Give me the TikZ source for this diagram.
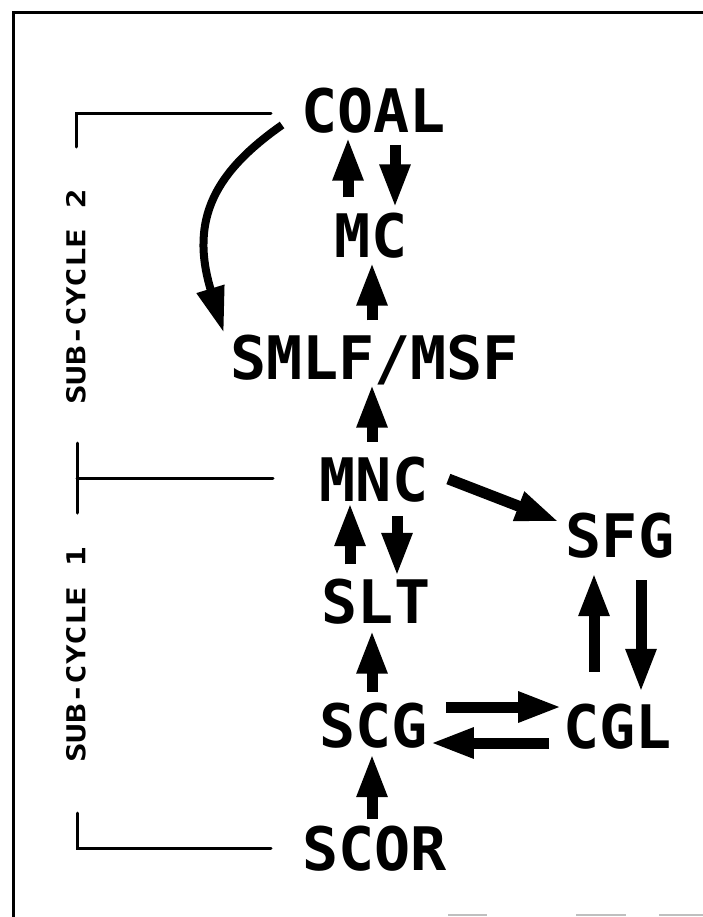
\documentclass[tikz,border=0pt]{standalone}
\usepackage{fontspec}
\newfontfamily\plotfont{DejaVu Sans Mono}
\newfontfamily\sidefont[FakeStretch=1.25]{DejaVu Sans Mono}
\usetikzlibrary{arrows.meta, calc}
\tikzset{
    boxName/.style={inner sep=0pt, text height=44bp, text depth=0pt, font=\plotfont\bfseries\fontsize{60bp}{60bp}\selectfont},
    sideLabel/.style={rotate=90, inner sep=0pt, font=\sidefont\bfseries\fontsize{26bp}{26bp}\selectfont},
    flowArrow/.style={line width=11bp, -{Triangle[length=44bp, width=28bp]}, shorten <=15bp, shorten >=4bp},
    curveArrow/.style={line width=8bp, -{Triangle[length=46bp, width=27bp]}},
    bracketLine/.style={line width=3bp, line cap=round},
    frameLine/.style={line width=3bp},
    scanLine/.style={line width=1.5bp, gray!50},
}
\newcommand{\flowUp}[4][]{
    \draw[flowArrow, #1] ([xshift=#2]#3.north) -- ([xshift=#2]#3.north |- #4.south);
}
\newcommand{\flowDown}[4][]{
    \draw[flowArrow, #1] ([xshift=#2]#3.south) -- ([xshift=#2]#3.south |- #4.north);
}
\begin{document}
\begin{tikzpicture}[x=1bp, y=-1bp]
    \useasboundingbox (0,0) rectangle (703,917);

    % frame
    \draw[frameLine] (13,917) -- (13,12) -- (703,12);
    \draw[scanLine] (448,915) -- (487,915);
    \draw[scanLine] (576,915) -- (626,915);
    \draw[scanLine] (659,915) -- (703,915);

    % nodes
    \node[boxName] (COAL) at (373.5,110.5) {COAL};
    \node[boxName] (MC) at (371,235.5) {MC};
    \node[boxName] (SMLF) at (374.5,357.5) {SMLF/MSF};
    \node[boxName] (MNC) at (374,479) {MNC};
    \node[boxName] (SFG) at (620,535) {SFG};
    \node[boxName] (SLT) at (376,601.5) {SLT};
    \node[boxName] (SCG) at (373.5,725) {SCG};
    \node[boxName] (CGL) at (617.5,726) {CGL};
    \node[boxName] (SCOR) at (374.5,848.5) {SCOR};

    % sub-cycles
    \node[sideLabel] (sub2) at (76,297) {SUB-CYCLE 2};
    \node[sideLabel] (sub1) at (76,655) {SUB-CYCLE 1};
    \draw[bracketLine] (271,113) -| (76,147);
    \draw[bracketLine] (273,478) -- (77,478);
    \draw[bracketLine] (77,443) -- (77,513);
    \draw[bracketLine] (77,813) |- (271,848);

    % flows
    \flowUp[shorten <=16bp]{-23bp}{MC}{COAL}
    \flowDown[shorten <=12bp, shorten >=5bp]{21.5bp}{COAL}{MC}
    \flowUp{-2.5bp}{SMLF}{MC}
    \flowUp{-2bp}{MNC}{SMLF}
    \flowUp[shorten >=1bp]{-26bp}{SLT}{MNC}
    \flowDown[shorten >=2.5bp]{23bp}{MNC}{SLT}
    \flowUp[shorten <=11bp, shorten >=6bp]{-1.5bp}{SCG}{SLT}
    \flowUp[shorten <=7bp, shorten >=6bp]{-2.5bp}{SCOR}{SCG}
    \flowUp[shorten <=32bp, shorten >=15bp]{-23.5bp}{CGL}{SFG}
    \flowDown[shorten <=23bp, shorten >=11bp]{21bp}{SFG}{CGL}
    \draw[flowArrow, shorten <=0bp, shorten >=0bp] ([xshift=20bp]MNC.east) -- ([xshift=-6bp,yshift=13bp]SFG.west);
    \draw[flowArrow, shorten <=18bp, shorten >=1bp] ([yshift=18bp]SCG.east) -- ([yshift=18bp]SCG.east -| CGL.west);
    \draw[flowArrow, shorten <=14bp, shorten >=2bp] ([yshift=-17bp]CGL.west) -- ([yshift=-17bp]CGL.west -| SCG.east);
    \draw[curveArrow] ([xshift=-19bp,yshift=-14.5bp]COAL.west) .. controls +(-65.5,46) and +(-35,-115) .. ([xshift=-6bp,yshift=2.5bp]SMLF.north west);

\end{tikzpicture}
\end{document}
